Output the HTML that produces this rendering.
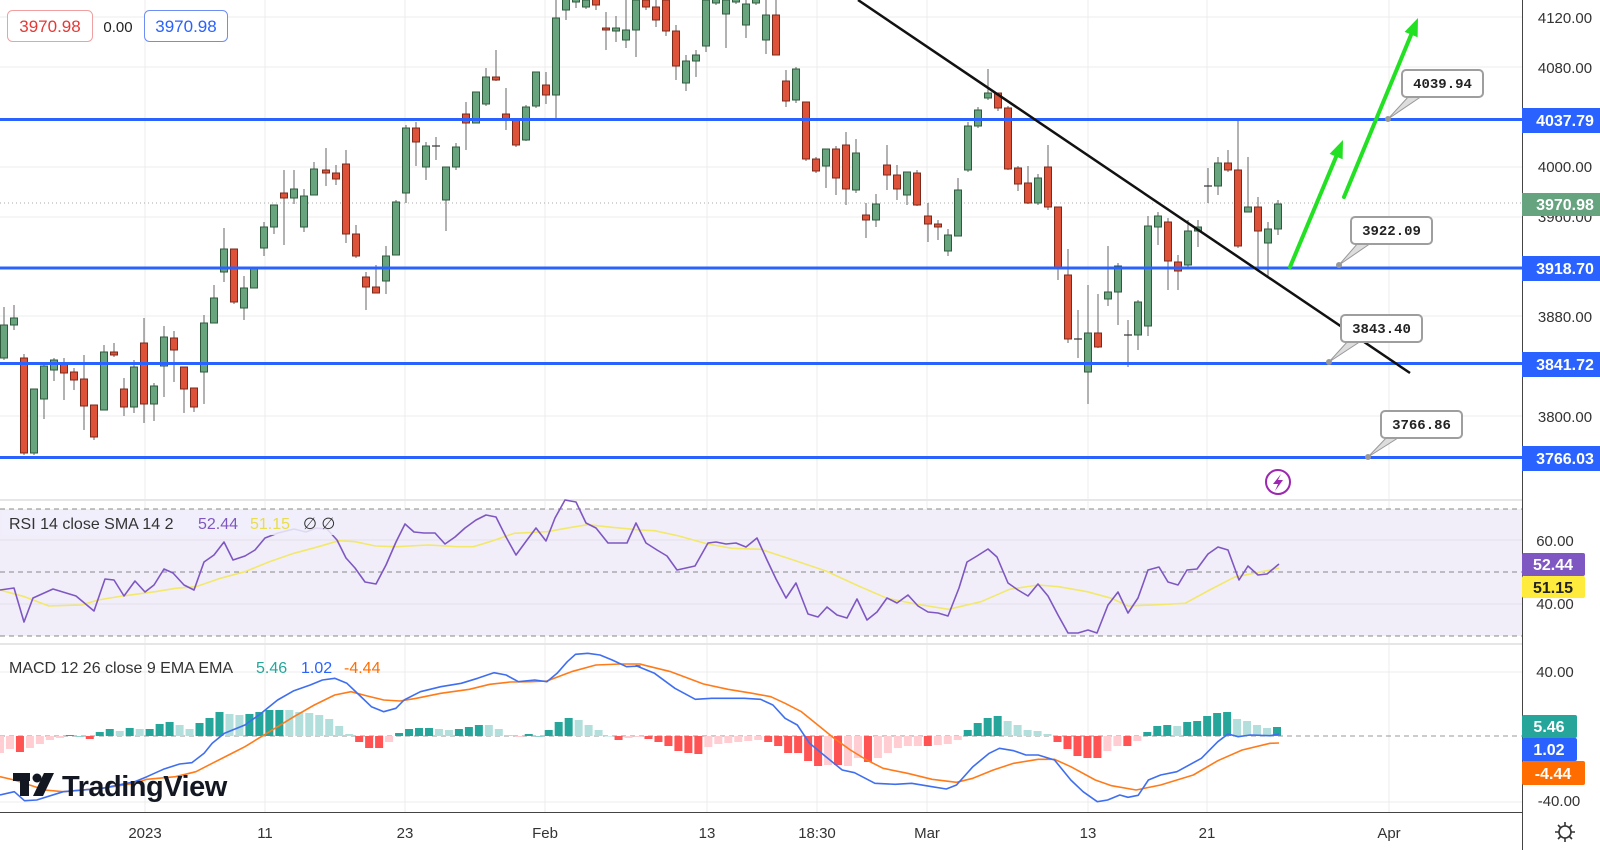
<!DOCTYPE html>
<html><head><meta charset="utf-8"><style>
html,body{margin:0;padding:0;background:#fff;}
svg{display:block;font-family:"Liberation Sans",sans-serif;}
</style></head><body>
<svg id="s" width="1600" height="850" viewBox="0 0 1600 850" xmlns="http://www.w3.org/2000/svg">
<rect width="1600" height="850" fill="#fff"/>
<!-- vertical grid -->
<g stroke="#ececec" stroke-width="1">
<line x1="145" y1="0" x2="145" y2="812"/><line x1="265" y1="0" x2="265" y2="812"/>
<line x1="405" y1="0" x2="405" y2="812"/><line x1="545" y1="0" x2="545" y2="812"/>
<line x1="707" y1="0" x2="707" y2="812"/><line x1="817" y1="0" x2="817" y2="812"/>
<line x1="927" y1="0" x2="927" y2="812"/><line x1="1088" y1="0" x2="1088" y2="812"/>
<line x1="1207" y1="0" x2="1207" y2="812"/><line x1="1389" y1="0" x2="1389" y2="812"/>
<!-- horizontal price grid -->
<line x1="0" y1="17" x2="1522" y2="17"/><line x1="0" y1="67" x2="1522" y2="67"/>
<line x1="0" y1="167" x2="1522" y2="167"/><line x1="0" y1="217" x2="1522" y2="217"/>
<line x1="0" y1="316" x2="1522" y2="316"/><line x1="0" y1="416" x2="1522" y2="416"/>
</g>
<!-- RSI pane bg -->
<rect x="0" y="509" width="1522" height="127" fill="#f1eefa"/>
<g stroke="#e2e0ea"><line x1="0" y1="540" x2="1522" y2="540"/><line x1="0" y1="604" x2="1522" y2="604"/></g>
<g stroke="#888" stroke-dasharray="5,4" stroke-width="1">
<line x1="0" y1="509" x2="1522" y2="509"/><line x1="0" y1="572" x2="1522" y2="572"/><line x1="0" y1="636" x2="1522" y2="636"/>
</g>
<!-- pane separators -->
<line x1="0" y1="500" x2="1522" y2="500" stroke="#e6e6e6" stroke-width="2"/>
<line x1="0" y1="644" x2="1522" y2="644" stroke="#e6e6e6" stroke-width="2"/>
<g stroke="#ececec"><line x1="0" y1="672" x2="1522" y2="672"/><line x1="0" y1="802" x2="1522" y2="802"/></g>
<line x1="0" y1="736" x2="1522" y2="736" stroke="#999" stroke-dasharray="5,4"/>
<g id="hist"></g>
<g id="macd"></g>
<g id="rsi"></g>
<!-- dotted last price -->
<line x1="0" y1="203" x2="1522" y2="203" stroke="#aaa" stroke-dasharray="1,3"/>
<g id="candles"></g>
<!-- blue levels -->
<g stroke="#2962ff" stroke-width="3">
<line x1="0" y1="119.5" x2="1522" y2="119.5"/><line x1="0" y1="268" x2="1522" y2="268"/>
<line x1="0" y1="363.5" x2="1522" y2="363.5"/><line x1="0" y1="457.5" x2="1522" y2="457.5"/>
</g>
<!-- trendline -->
<line x1="858" y1="0" x2="1410" y2="373" stroke="#111" stroke-width="2.5"/>
<!-- green arrows -->
<g stroke="#22e022" stroke-width="4" stroke-linecap="round">
<line x1="1290" y1="267" x2="1336" y2="157"/><line x1="1344" y1="197" x2="1411" y2="35"/>
</g>
<g fill="#22e022">
<polygon points="1343,140 1342.6,159.3 1329.6,153.9"/>
<polygon points="1418,18 1417.6,37.3 1404.6,31.9"/>
</g>
<!-- callouts -->
<g font-family="'Liberation Mono','DejaVu Sans Mono',monospace" font-size="14" font-weight="bold" fill="#222">
<polygon points="1409,96 1422,96 1388,119" fill="#ddd" stroke="#999"/>
<rect x="1402" y="70" width="81" height="27" rx="4" fill="#fff" stroke="#9e9e9e" stroke-width="2"/>
<text x="1442.5" y="88" text-anchor="middle">4039.94</text>
<circle cx="1388" cy="119" r="3" fill="#999"/>
<polygon points="1358,243 1371,243 1339,265" fill="#ddd" stroke="#999"/>
<rect x="1351" y="217" width="81" height="27" rx="4" fill="#fff" stroke="#9e9e9e" stroke-width="2"/>
<text x="1391.5" y="235" text-anchor="middle">3922.09</text>
<circle cx="1339" cy="265" r="3" fill="#999"/>
<polygon points="1348,341 1361,341 1329,362" fill="#ddd" stroke="#999"/>
<rect x="1341" y="315" width="81" height="27" rx="4" fill="#fff" stroke="#9e9e9e" stroke-width="2"/>
<text x="1381.5" y="333" text-anchor="middle">3843.40</text>
<circle cx="1329" cy="362" r="3" fill="#999"/>
<polygon points="1388,436 1401,436 1368,457" fill="#ddd" stroke="#999"/>
<rect x="1381" y="411" width="81" height="27" rx="4" fill="#fff" stroke="#9e9e9e" stroke-width="2"/>
<text x="1421.5" y="429" text-anchor="middle">3766.86</text>
<circle cx="1368" cy="457" r="3" fill="#999"/>
</g>
<!-- lightning icon -->
<circle cx="1278" cy="482" r="12" fill="#fff" stroke="#9c27b0" stroke-width="2"/>
<polygon points="1281,474 1273,484 1278,484 1275,491 1283,480 1278,480" fill="#9c27b0"/>
<!-- top-left legend -->
<rect x="7.5" y="10.5" width="85" height="31" rx="5" fill="#fff" stroke="#f0a0a0"/>
<text x="50" y="32" text-anchor="middle" font-size="17" fill="#e53935">3970.98</text>
<text x="118" y="32" text-anchor="middle" font-size="15" fill="#222">0.00</text>
<rect x="144.5" y="10.5" width="83" height="31" rx="5" fill="#fff" stroke="#6f8ef5"/>
<text x="186" y="32" text-anchor="middle" font-size="17" fill="#2962ff">3970.98</text>
<!-- RSI legend -->
<rect x="2" y="511" width="335" height="24" fill="#f1eefa" opacity="0.85"/>
<text x="9" y="529" font-size="16" fill="#333">RSI 14 close SMA 14 2</text>
<text x="198" y="529" font-size="16" fill="#7e57c2">52.44</text>
<text x="250" y="529" font-size="16" fill="#e8dd4a">51.15</text>
<text x="303" y="529" font-size="16" fill="#333">∅  ∅</text>
<!-- MACD legend -->
<text x="9" y="673" font-size="16" fill="#333">MACD 12 26 close 9 EMA EMA</text>
<text x="256" y="673" font-size="16" fill="#26a69a">5.46</text>
<text x="301" y="673" font-size="16" fill="#2962ff">1.02</text>
<text x="344" y="673" font-size="16" fill="#ff6d00">-4.44</text>
<!-- TradingView logo -->
<g fill="#131722">
<rect x="13" y="773" width="17" height="8"/><rect x="20" y="773" width="9" height="23"/>
<circle cx="37" cy="778" r="4.5"/><polygon points="44,773 54,773 43,796 33,796"/>
<text x="62" y="796" font-size="29" font-weight="bold" letter-spacing="-0.5">TradingView</text>
</g>
<!-- right axis -->
<rect x="1522" y="0" width="78" height="850" fill="#fff"/>
<line x1="1522.5" y1="0" x2="1522.5" y2="850" stroke="#444" stroke-width="1"/>
<line x1="0" y1="812.5" x2="1522" y2="812.5" stroke="#444" stroke-width="1"/>
<g font-size="15" fill="#333" text-anchor="middle">
<text x="1565" y="23">4120.00</text><text x="1565" y="73">4080.00</text>
<text x="1565" y="172">4000.00</text><text x="1565" y="222">3960.00</text>
<text x="1565" y="322">3880.00</text><text x="1565" y="422">3800.00</text>
<text x="1555" y="546">60.00</text><text x="1555" y="609">40.00</text>
<text x="1555" y="677">40.00</text><text x="1559" y="806">-40.00</text>
</g>
<g font-size="16" font-weight="bold" fill="#fff" text-anchor="middle">
<rect x="1522" y="108" width="78" height="25" fill="#2962ff"/><text x="1565" y="126">4037.79</text>
<rect x="1522" y="193" width="78" height="23" fill="#66a37f"/><text x="1565" y="210">3970.98</text>
<rect x="1522" y="256" width="78" height="25" fill="#2962ff"/><text x="1565" y="274">3918.70</text>
<rect x="1522" y="352" width="78" height="25" fill="#2962ff"/><text x="1565" y="370">3841.72</text>
<rect x="1522" y="446" width="78" height="25" fill="#2962ff"/><text x="1565" y="464">3766.03</text>
<rect x="1522" y="553" width="63" height="23" fill="#7e57c2" rx="2"/><text x="1553" y="570">52.44</text>
<rect x="1522" y="576" width="63" height="22" fill="#ffeb3b" rx="2"/><text x="1553" y="593" fill="#222">51.15</text>
<rect x="1522" y="715" width="55" height="23" fill="#26a69a" rx="2"/><text x="1549" y="732">5.46</text>
<rect x="1522" y="738" width="55" height="23" fill="#2962ff" rx="2"/><text x="1549" y="755">1.02</text>
<rect x="1522" y="761" width="63" height="24" fill="#ff6d00" rx="2"/><text x="1553" y="779">-4.44</text>
</g>
<!-- time axis -->
<g font-size="15" fill="#333" text-anchor="middle">
<text x="145" y="838">2023</text><text x="265" y="838">11</text><text x="405" y="838">23</text>
<text x="545" y="838">Feb</text><text x="707" y="838">13</text><text x="817" y="838">18:30</text>
<text x="927" y="838">Mar</text><text x="1088" y="838">13</text><text x="1207" y="838">21</text>
<text x="1389" y="838">Apr</text>
</g>
<g stroke="#333" stroke-width="1.6" fill="none">
<circle cx="1565" cy="832" r="6"/>
<path d="M1565 822v4M1565 838v4M1555 832h4M1571 832h4M1558 825l3 3M1569 836l3 3M1558 839l3-3M1569 828l3-3"/>
</g>
</svg>
<script>
var NS="http://www.w3.org/2000/svg";
function el(p,t,a){var e=document.createElementNS(NS,t);for(var k in a)e.setAttribute(k,a[k]);p.appendChild(e);return e;}
var C=[[4,325,358,307,360,1],[14,318,325,305,330,1],[24,358,453,354,455,0],[34,389,453,389,455,1],[44,366,399,362,419,1],[54,360,370,358,381,1],[64,363,373,358,400,0],[74,372,380,368,390,0],[84,379,406,355,430,0],[94,405,437,405,440,0],[104,352,410,345,410,1],[114,352,355,343,357,0],[124,389,407,378,416,0],[134,367,407,360,413,1],[144,343,404,318,423,0],[154,386,404,383,421,1],[164,337,366,326,397,1],[174,338,350,331,382,0],[184,367,389,367,413,0],[194,388,407,388,412,0],[204,323,372,315,404,1],[214,298,323,285,323,1],[224,249,272,228,282,1],[234,249,302,249,304,0],[244,288,308,276,320,1],[254,268,288,268,288,1],[264,227,248,222,256,1],[274,205,227,205,234,1],[284,193,198,170,245,0],[294,189,198,170,204,1],[304,196,227,189,232,1],[314,169,195,162,195,1],[326,170,173,148,186,0],[336,173,179,165,185,0],[346,164,234,150,243,0],[356,234,256,225,258,0],[366,277,287,272,310,0],[376,287,293,265,293,0],[386,256,281,246,294,1],[396,202,255,200,255,1],[406,128,193,125,203,1],[416,128,142,122,166,0],[426,146,167,142,180,1],[436,146,146,137,160,1],[446,167,200,167,231,1],[456,147,167,143,170,1],[466,114,123,102,150,0],[476,92,123,92,123,1],[486,77,104,68,106,1],[496,77,80,50,81,0],[506,114,119,88,130,0],[516,120,145,120,147,0],[526,107,140,105,141,1],[536,72,106,72,108,1],[546,85,95,72,104,0],[556,18,95,0,118,1],[566,-20,10,-30,20,1],[576,-10,2,-20,8,1],[586,0,7,-10,9,1],[596,-5,5,-15,10,0],[606,28,30,12,50,0],[616,28,31,16,42,1],[626,30,40,0,48,1],[636,0,30,-10,57,1],[646,0,7,-10,10,0],[656,7,20,0,27,0],[666,0,31,-5,36,0],[676,31,66,25,80,0],[686,61,83,55,91,1],[696,55,61,50,77,1],[706,0,46,-5,52,1],[716,-5,3,-10,5,1],[726,0,14,-5,48,1],[736,-5,2,-10,4,1],[746,4,25,0,38,1],[756,-5,3,-10,5,1],[766,15,40,0,54,1],[776,15,55,0,55,0],[786,81,101,70,107,0],[796,69,100,67,103,1],[806,102,159,102,161,0],[816,159,171,157,173,0],[826,149,166,149,188,1],[836,149,178,146,195,0],[846,145,189,132,205,0],[856,153,190,139,193,1],[866,215,220,203,238,0],[876,204,220,194,227,1],[887,165,175,145,190,0],[897,175,189,165,200,0],[907,172,195,172,205,1],[917,173,205,170,206,0],[928,216,224,203,242,0],[938,224,227,220,240,0],[948,235,251,229,256,1],[958,190,236,178,236,1],[968,126,170,122,172,1],[978,110,126,107,128,1],[988,93,98,69,100,1],[998,93,108,93,111,0],[1008,108,169,106,170,0],[1018,168,184,166,191,0],[1028,183,203,166,204,0],[1038,178,203,174,205,1],[1048,167,207,145,210,0],[1058,207,269,207,280,0],[1068,275,339,249,343,0],[1078,339,339,310,358,0],[1088,333,372,285,404,1],[1098,333,347,294,348,0],[1108,292,299,246,306,1],[1118,266,292,263,325,1],[1128,335,335,320,367,1],[1138,302,335,300,350,1],[1148,226,326,216,336,1],[1158,216,227,212,245,1],[1168,222,261,218,290,0],[1178,262,271,255,290,0],[1188,231,265,220,267,1],[1198,227,231,220,247,1],[1208,186,186,168,203,1],[1218,163,186,157,195,1],[1228,163,170,150,172,0],[1238,170,246,120,248,0],[1248,207,212,157,212,1],[1258,207,231,197,270,0],[1268,229,243,222,278,1],[1278,204,229,200,235,1]];
var g=document.getElementById("candles");
C.forEach(function(c){
 var x=c[0],t=c[1],b=c[2],h=c[3],l=c[4],up=c[5];
 el(g,"line",{x1:x,y1:h,x2:x,y2:l,stroke:"#666","stroke-width":1});
 if(b-t<1){el(g,"line",{x1:x-4,y1:t,x2:x+4,y2:t,stroke:"#333","stroke-width":1.2});}
 else el(g,"rect",{x:x-3.5,y:t,width:7,height:b-t,fill:up?"#68a57f":"#de5239",stroke:up?"#2f5a3c":"#7c2a1c","stroke-width":1});
});
// histogram
var H=[[-17,3],[-13,3],[-16,2],[-12,3],[-8,3],[-4,3],[-2,3],[1,0],[0,0],[-3,2],[4,0],[7,0],[5,1],[8,0],[7,1],[7,0],[12,0],[14,0],[11,1],[7,1],[13,0],[18,0],[24,0],[22,1],[21,1],[22,0],[24,0],[26,0],[26,0],[26,1],[24,1],[23,1],[21,1],[17,1],[10,1],[2,1],[-6,2],[-12,2],[-12,2],[-6,3],[3,0],[7,0],[8,0],[8,0],[7,1],[6,1],[7,0],[9,0],[11,0],[11,1],[7,1],[1,1],[-1,3],[2,0],[0,0],[6,0],[14,0],[18,0],[16,1],[11,1],[6,1],[0,1],[-4,2],[-2,3],
[-1,3],[-3,2],[-6,2],[-10,2],[-15,2],[-17,2],[-18,2],[-11,3],[-8,3],[-7,3],[-6,3],[-5,3],[-4,3],[-6,2],[-10,2],[-17,2],[-17,2],[-25,2],[-30,2],[-29,3],[-29,2],[-30,3],[-22,3],[-26,2],[-22,3],[-17,3],[-12,3],[-10,3],[-10,3],[-10,2],[-9,3],[-8,3],[-4,3],[6,0],[13,0],[18,0],[20,0],[15,1],[11,1],[6,1],[5,1],[2,1],[-6,2],[-13,2],[-20,2],[-22,2],[-22,2],[-15,3],[-10,3],[-10,2],[-5,3],[4,0],[10,0],[11,0],[10,1],[14,0],[15,0],[20,0],[23,0],[24,0],[17,1],[15,1],[11,1],[8,1],[9,0]];
var col=["#26a69a","#b2dfdb","#ff5252","#ffcdd2"];
var hg=document.getElementById("hist"),n=H.length;
H.forEach(function(v,i){var x=i*(1277/(n-1));var hh=v[0]*1.0;
 if(hh>=0)el(hg,"rect",{x:x-4,y:736-hh,width:8,height:Math.max(hh,0.5),fill:col[v[1]]});
 else el(hg,"rect",{x:x-4,y:736,width:8,height:-hh,fill:col[v[1]]});});
function pl(parent,pts,stroke,w){el(parent,"polyline",{points:pts.map(function(p){return p[0].toFixed(1)+","+p[1].toFixed(1)}).join(" "),fill:"none",stroke:stroke,"stroke-width":w,"stroke-linejoin":"round"});}
function z(list,ox,fx){return list.map(function(p){return [ox+p[0]/fx,490+p[1]/3];});}
var m=document.getElementById("macd");
var blue=z([[0,915],[35,905],[60,932],[90,930],[155,905],[250,895],[330,875],[360,860],[400,838],[440,822],[470,818],[500,790],[520,760],[550,730],[600,705],[640,670],[680,630],[720,602],[760,585],[790,570],[820,565],[850,580],[880,615],[910,650],[940,665],[970,655],[990,630],[1030,605],[1080,590],[1130,580],[1170,565],[1210,548],[1240,555],[1270,575],[1310,570],[1340,575],[1365,550],[1390,515],[1410,493],[1440,490],[1470,495],[1500,510],[1535,530],[1568,528]],0,2.45)
 .concat(z([[15,527],[60,550],[110,595],[160,628],[200,625],[280,625],[320,628],[350,645],[380,685],[410,705],[440,760],[480,800],[520,840],[550,848],[600,880],[650,883],[690,880],[740,890],[775,897],[800,885],[840,830],[880,790],[905,775],[940,782],[970,795],[1000,795],[1040,810],[1080,870],[1110,905],[1145,935],[1170,930],[1200,915],[1220,922],[1245,916],[1270,870],[1300,855],[1340,845],[1400,805],[1440,755],[1465,732],[1490,740],[1520,735],[1568,737]],630,2.45)).concat([[1279,734]]);
var orange=z([[0,860],[35,870],[110,900],[155,905],[250,895],[330,880],[360,868],[430,860],[480,845],[520,820],[560,795],[600,770],[640,740],[680,710],[720,680],[770,645],[820,615],[860,605],[900,618],[940,630],[980,633],[1020,625],[1080,610],[1150,598],[1200,583],[1250,576],[1300,575],[1340,573],[1400,545],[1460,525],[1520,522],[1568,522]],0,2.45)
 .concat(z([[40,527],[100,545],[180,582],[240,598],[300,610],[345,620],[380,640],[420,665],[460,705],[500,745],[540,780],[580,810],[620,835],[680,850],[740,868],[800,877],[840,865],[890,840],[940,820],[1000,808],[1040,808],[1080,830],[1140,870],[1180,887],[1240,900],[1300,885],[1380,855],[1440,812],[1500,780],[1568,760]],630,2.45)).concat([[1279,743]]);
pl(m,orange,"#ff7b1a",1.6);pl(m,blue,"#3f6ff0",1.6);
var r=document.getElementById("rsi");
var sma=z([[0,300],[60,320],[120,348],[200,345],[240,330],[300,318],[380,305],[430,295],[480,290],[540,265],[600,245],[660,215],[720,190],[780,170],[830,152],[870,155],[920,168],[970,170],[1050,165],[1120,170],[1160,170],[1200,155],[1260,130],[1340,125],[1400,112],[1440,104],[1500,112],[1568,120]],0,2.45)
 .concat(z([[60,122],[120,138],[190,162],[250,175],[320,178],[400,210],[480,243],[560,288],[630,325],[700,342],[780,358],[860,335],[930,298],[1000,285],[1050,290],[1120,305],[1180,325],[1220,348],[1280,345],[1360,340],[1420,300],[1480,262],[1568,240]],630,2.45)).concat([[1279,568]]);
pl(r,sma,"#f2e86a",1.6);
var rp=[[0,590],[14,588],[24,622],[33,598],[53,589],[76,596],[94,611],[105,579],[114,580],[124,596],[135,581],[145,592],[154,585],[164,569],[173,573],[184,585],[194,590],[204,562],[214,555],[224,542],[233,560],[245,556],[255,550],[265,538],[278,533],[294,529],[306,532],[316,528],[327,529],[337,540],[346,558],[355,568],[365,582],[376,584],[386,565],[396,542],[405,524],[414,532],[424,533],[435,533],[445,544],[455,537],[465,528],[476,520],[486,515],[496,517],[506,537],[516,555],[527,540],[536,528],[546,541],[555,518],[565,500],[576,502],[586,523],[596,528],[608,543],[627,543],[636,523],[646,543],[657,550],[667,556],[677,570],[695,566],[708,543],[716,542],[726,544],[736,543],[746,547],[757,538],[767,560],[776,579],[786,598],[796,583],[808,614],[818,617],[827,607],[837,615],[847,618],[857,599],[867,620],[877,612],[887,598],[897,603],[908,595],[918,606],[928,612],[938,613],[948,616],[959,588],[967,562],[977,556],[988,549],[997,557],[1008,583],[1018,590],[1028,596],[1038,584],[1048,596],[1058,615],[1068,633],[1078,633],[1088,630],[1097,633],[1108,605],[1118,592],[1128,613],[1138,598],[1148,570],[1159,567],[1168,582],[1178,585],[1187,570],[1197,569],[1208,554],[1218,547],[1228,550],[1239,580],[1248,566],[1258,575],[1267,574],[1279,564]];
pl(r,rp,"#7e57c2",1.6);
</script>
</body></html>
